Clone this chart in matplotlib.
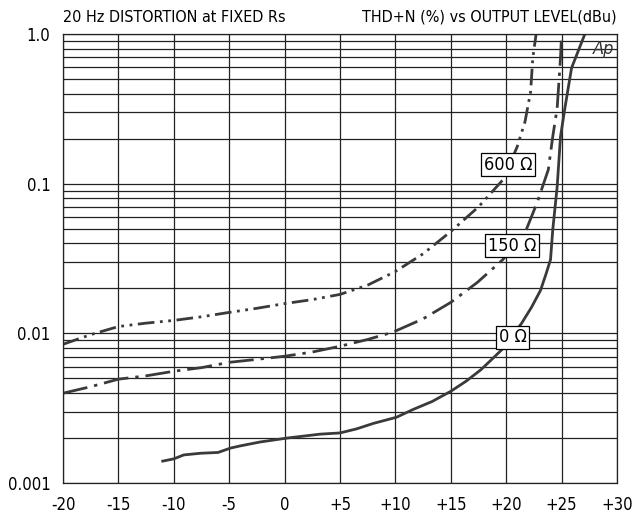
import numpy as np
import matplotlib.pyplot as plt
from matplotlib.ticker import FixedLocator, LogLocator, NullFormatter

plt.rcParams['font.family'] = ['DejaVu Sans']
plt.rcParams['font.stretch'] = 'condensed'

# THD+N (%) vs output level (dBu)
x_600 = [-20, -17.5, -15, -12.5, -10, -7.5, -5, -2.5, 0, 2.5, 5, 7.5, 10, 12.5, 15, 17.5,
         19.7, 21.0, 21.7, 22.2, 22.4, 22.7]
y_600 = [0.00845, 0.0098, 0.0111, 0.0117, 0.0122, 0.0129, 0.0138, 0.0147, 0.0158, 0.0168,
         0.0182, 0.021, 0.0259, 0.034, 0.0479, 0.070, 0.106, 0.177, 0.26, 0.41, 0.69, 1.0]

x_150 = [-20, -17.5, -15, -12.5, -10, -7.5, -5, -2.5, 0, 2.5, 5, 7.5, 9.8, 12.5, 15, 17.4,
         19.7, 21.7, 22.8, 23.8, 24.2, 24.6, 24.9, 25.0]
y_150 = [0.00398, 0.0044, 0.00494, 0.0052, 0.00558, 0.0059, 0.0064, 0.0067, 0.00703, 0.0075,
         0.0082, 0.0091, 0.0102, 0.0125, 0.0161, 0.0219, 0.0311, 0.047, 0.075, 0.124, 0.206,
         0.32, 0.69, 1.0]

x_0 = [-11.0, -10.0, -9.1, -7.6, -6.0, -4.9, -4.0, -2.2, 0.3, 3.2, 5, 6.5, 8, 10.1, 11.6,
       13.3, 15, 16.4, 17.7, 18.7, 19.7, 20.5, 21.4, 22.3, 23.1, 23.6, 24.0, 24.2, 24.6,
       24.9, 25.3, 25.9, 27.1]
y_0 = [0.0014, 0.00145, 0.00154, 0.00158, 0.0016, 0.00171, 0.00177, 0.00188, 0.002, 0.00212,
       0.00216, 0.0023, 0.0025, 0.00275, 0.0031, 0.0035, 0.0041, 0.0048, 0.0057, 0.0067,
       0.0079, 0.0095, 0.0117, 0.015, 0.0194, 0.025, 0.0311, 0.049, 0.0955, 0.206, 0.321,
       0.593, 1.0]

x_ticks = [-20, -15, -10, -5, 0, 5, 10, 15, 20, 25, 30]
x_labels = ['-20', '-15', '-10', '-5', '0', '+5', '+10', '+15', '+20', '+25', '+30']
y_ticks = [0.001, 0.01, 0.1, 1.0]
y_labels = ['0.001', '0.01', '0.1', '1.0']

fig = plt.figure(figsize=(6.35, 5.18), dpi=100)
ax = fig.add_axes([63 / 635, 1 - 483 / 518, 554 / 635, 449 / 518])

ax.set_yscale('log')
ax.set_xlim(-20, 30)
ax.set_ylim(0.001, 1.0)

ax.xaxis.set_major_locator(FixedLocator(x_ticks))
ax.set_xticklabels(x_labels)
ax.yaxis.set_major_locator(FixedLocator(y_ticks))
ax.set_yticklabels(y_labels)
ax.yaxis.set_minor_locator(LogLocator(base=10, subs=np.arange(2, 10)))
ax.yaxis.set_minor_formatter(NullFormatter())
ax.tick_params(which='both', length=0, labelsize=12, pad=9)

ax.grid(True, which='both', axis='y', color='#222222', lw=0.9)
ax.grid(True, which='major', axis='x', color='#222222', lw=0.9)
ax.set_axisbelow(True)
for s in ax.spines.values():
    s.set_color('#222222')
    s.set_linewidth(0.9)

col = '#3a3a3a'
ax.plot(x_600, y_600, color=col, lw=2, linestyle=(0, (6, 2, 1, 2, 1, 2)))
ax.plot(x_150, y_150, color=col, lw=2, linestyle=(0, (9, 2.5, 1.2, 2.5)))
ax.plot(x_0, y_0, color=col, lw=2)

box = dict(boxstyle='square,pad=0.15', fc='white', ec='black', lw=0.9)
ax.text(20.2, 0.134, '600 Ω', ha='center', va='center', fontsize=13, bbox=box, zorder=5)
ax.text(20.5, 0.0386, '150 Ω', ha='center', va='center', fontsize=13, bbox=box, zorder=5)
ax.text(20.6, 0.0094, '0 Ω', ha='center', va='center', fontsize=13, bbox=box, zorder=5)
ax.text(28.8, 0.8, 'Ap', ha='center', va='center', fontsize=13, style='italic',
        fontweight='light', color='#333333')

fig.text(63 / 635, 1 - 17 / 518, '20 Hz DISTORTION at FIXED Rs', ha='left', va='center', fontsize=11.5)
fig.text(617 / 635, 1 - 17 / 518, 'THD+N (%) vs OUTPUT LEVEL(dBu)', ha='right', va='center', fontsize=11.5)

fig.savefig('out.png', dpi=100)
